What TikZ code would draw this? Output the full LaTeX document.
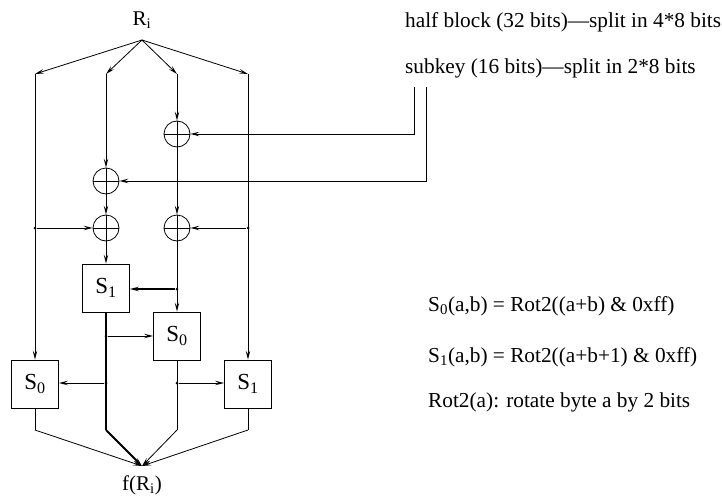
\documentclass[tikz,border=0pt]{standalone}
\usepackage{fontspec}
\setmainfont{Liberation Serif}
\usetikzlibrary{arrows.meta}
\tikzset{
  ln/.style={line width=0.8pt},
  tip/.tip={Stealth[open,length=9pt,width=4.5pt,inset=3.5pt,line width=0.8pt]},
  arr/.style={ln,-tip},
  thk/.style={line width=1.8pt},
  xor/.style={circle,draw,ln,minimum size=26pt,inner sep=0pt,
    path picture={\draw[ln] (path picture bounding box.north) -- (path picture bounding box.south)
      (path picture bounding box.west) -- (path picture bounding box.east);}},
  sbox/.style={draw,ln,minimum width=47pt,minimum height=48pt,inner sep=0pt,font=\fontsize{23}{26}\selectfont},
  lbl/.style={inner sep=0pt,font=\fontsize{21}{24}\selectfont},
  txt/.style={inner sep=0pt,anchor=west,font=\fontsize{21.3}{24}\selectfont},
  dot/.style={circle,fill,inner sep=0pt,minimum size=3pt}
}
\begin{document}
\begin{tikzpicture}[x=1pt,y=-1pt]
\useasboundingbox (0,0) rectangle (722,495);
\node[lbl] (Ri) at (142,20) {R\textsubscript{i}};
\coordinate (top) at (142,40);
\coordinate (tA) at (35,74);
\coordinate (tB) at (106,74);
\coordinate (tC) at (177,74);
\coordinate (tD) at (248,74);
\node[xor] (x1) at (177,134) {};
\node[xor] (x2) at (106,181) {};
\node[xor] (x3) at (106,228) {};
\node[xor] (x4) at (177,228) {};
\node[sbox] (S1a) at (106,288) {S\textsubscript{1}};
\node[sbox] (S0a) at (177,336) {S\textsubscript{0}};
\node[sbox] (S0b) at (35,384) {S\textsubscript{0}};
\node[sbox] (S1b) at (248,384) {S\textsubscript{1}};
\node[dot] (jl) at (35,228) {};
\node[dot] (jr) at (248,228) {};
\node[dot] (j1) at (177,289) {};
\node[dot] (j2) at (106,336) {};
\node[dot] (j3) at (106,383) {};
\node[dot] (j4) at (177,383) {};
\coordinate (bA) at (35,430);
\coordinate (bB) at (106,430);
\coordinate (bC) at (177,430);
\coordinate (bD) at (248,430);
\coordinate (bot) at (142,466);
\node[lbl,anchor=base] (fR) at (142,490) {f(R\textsubscript{i})};
\coordinate (k1) at (414,87);
\coordinate (k2) at (426,87);
\node[txt] (hb) at (405,22) {half block (32 bits)---split in 4*8 bits};
\node[txt] (sk) at (405,68) {subkey (16 bits)---split in 2*8 bits};
\node[txt] (f0) at (428,306) {S\textsubscript{0}(a,b) = Rot2((a+b) \& 0xff)};
\node[txt] (f1) at (428,357) {S\textsubscript{1}(a,b) = Rot2((a+b+1) \& 0xff)};
\node[txt] (f2) at (428,402) {Rot2(a): rotate byte a by 2 bits};
% top fan
\draw[arr] (top) -- (tA);
\draw[arr] (top) -- (tB);
\draw[arr] (top) -- (tC);
\draw[arr] (top) -- (tD);
\draw[arr] (tA) -- (S0b.north);
\draw[arr] (tD) -- (S1b.north);
\draw[arr] (tB) -- (x2.north);
\draw[arr] (tC) -- (x1.north);
\draw[arr] (x1.south) -- (x4.north);
\draw[arr] (x2.south) -- (x3.north);
\draw[arr] (x3.south) -- (S1a.north);
\draw[arr] (x4.south) -- (S0a.north);
% subkey
\draw[arr] (k1) |- (x1.east);
\draw[arr] (k2) |- (x2.east);
% side inputs
\draw[arr] (jl) -- (x3.west);
\draw[arr] (jr) -- (x4.east);
\draw[thk,-tip] (j1) -- (S1a.east |- j1);
\draw[arr] (j2) -- (S0a.west);
\draw[arr] (j3) -- (S0b.east |- j3);
\draw[arr] (j4) -- (S1b.west |- j4);
% outputs
\draw[thk] (S1a.south) -- (bB);
\draw[ln] (S0a.south) -- (bC);
\draw[ln] (S0b.south) -- (bA);
\draw[ln] (S1b.south) -- (bD);
\draw[thk,-tip] (bB) -- (bot);
\draw[arr] (bA) -- (bot);
\draw[arr] (bC) -- (bot);
\draw[arr] (bD) -- (bot);
\end{tikzpicture}
\end{document}
